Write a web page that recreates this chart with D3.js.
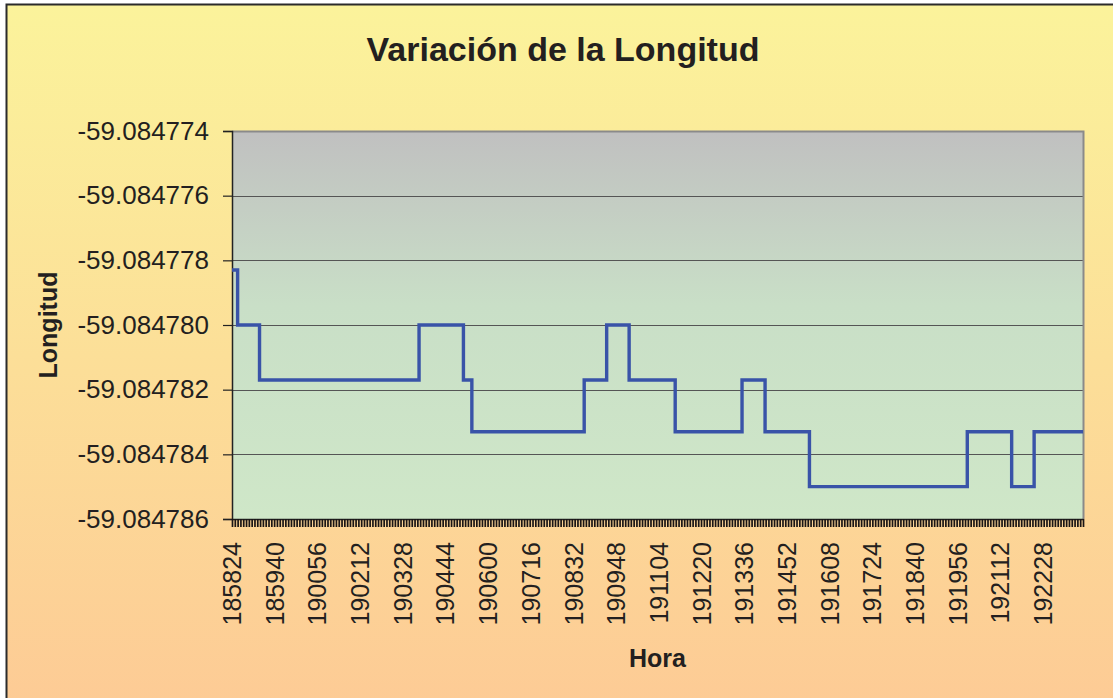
<!DOCTYPE html>
<html>
<head>
<meta charset="utf-8">
<script src="https://cdn.jsdelivr.net/npm/d3@7"></script>
<style>
  body { margin: 0; background: #fff; }
  svg { display: block; font-family: "Liberation Sans", Arial, sans-serif; }
</style>
</head>
<body>
<div id="chart"></div>
<script>
// data: one sample per second, value changes only at these indexes
var sampleCount = 1516;
var changeIndex = [0, 10, 49, 333, 412, 427, 627, 667, 707, 789, 908, 949, 1028, 1309, 1388, 1428];
var changeValue = [-59.0847783, -59.0847800, -59.0847817, -59.0847800, -59.0847817, -59.0847833,
                   -59.0847817, -59.0847800, -59.0847817, -59.0847833, -59.0847817, -59.0847833,
                   -59.0847850, -59.0847833, -59.0847850, -59.0847833];
var hourLabels = ["185824", "185940", "190056", "190212", "190328", "190444", "190600", "190716",
                  "190832", "190948", "191104", "191220", "191336", "191452", "191608", "191724",
                  "191840", "191956", "192112", "192228"];
var labelEvery = 76;
var tickEvery = 5;
var yTicks = [-59.084786, -59.084784, -59.084782, -59.084780, -59.084778, -59.084776, -59.084774];

var W = 1113, H = 698;
var plot = {left: 232, top: 131, right: 1083, bottom: 519};

var svg = d3.select("#chart").append("svg")
  .attr("width", W)
  .attr("height", H);

var defs = svg.append("defs");
var bg = defs.append("linearGradient").attr("id", "bg")
  .attr("x1", 0).attr("y1", 0).attr("x2", 0).attr("y2", 1);
bg.append("stop").attr("offset", "0%").attr("stop-color", "#fbf39b");
bg.append("stop").attr("offset", "100%").attr("stop-color", "#fdca95");

var pg = defs.append("linearGradient").attr("id", "pg")
  .attr("x1", 0).attr("y1", 0).attr("x2", 0).attr("y2", 1);
pg.append("stop").attr("offset", "0%").attr("stop-color", "#c0c0c0");
pg.append("stop").attr("offset", "45%").attr("stop-color", "#c9dfc7");
pg.append("stop").attr("offset", "100%").attr("stop-color", "#cfe7c8");

// chart area background + border
svg.append("rect")
  .attr("x", 0).attr("y", 0).attr("width", W).attr("height", H)
  .attr("fill", "#fff");
svg.append("rect")
  .attr("x", 6.5).attr("y", 4.5).attr("width", W + 20).attr("height", H + 20)
  .attr("fill", "url(#bg)")
  .attr("stroke", "#2b2b2b")
  .attr("stroke-width", 2);

var x = d3.scaleLinear()
  .domain([0, sampleCount - 1])
  .range([plot.left, plot.right]);

var y = d3.scaleLinear()
  .domain([yTicks[0], yTicks[yTicks.length - 1]])
  .range([plot.bottom, plot.top]);

// plot area
svg.append("rect")
  .attr("x", plot.left).attr("y", plot.top)
  .attr("width", plot.right - plot.left).attr("height", plot.bottom - plot.top)
  .attr("fill", "url(#pg)");

// gridlines
svg.append("g")
  .selectAll("line")
  .data(yTicks.slice(1))
  .enter().append("line")
  .attr("x1", plot.left).attr("x2", plot.right)
  .attr("y1", function(d) { return Math.round(y(d)) + 0.5; })
  .attr("y2", function(d) { return Math.round(y(d)) + 0.5; })
  .attr("stroke", "#555")
  .attr("stroke-width", 1.2);

// plot border top/right
svg.append("path")
  .attr("d", "M" + plot.left + "," + (plot.top + 0.5) + "H" + (plot.right + 0.5) + "V" + plot.bottom)
  .attr("fill", "none")
  .attr("stroke", "#8a8a8a")
  .attr("stroke-width", 2);

// y axis
var fmt = d3.format(".6f");
var yAxis = d3.axisLeft(y)
  .tickValues(yTicks)
  .tickFormat(function(d) { return fmt(d).replace("\u2212", "-"); })
  .tickSize(9)
  .tickPadding(14);

var gy = svg.append("g")
  .attr("transform", "translate(" + plot.left + ",0)")
  .call(yAxis);
gy.select(".domain").attr("stroke", "#222").attr("stroke-width", 1.5);
gy.selectAll(".tick line").attr("stroke", "#222").attr("stroke-width", 1.2);
gy.selectAll("text")
  .attr("font-size", 26)
  .attr("fill", "#231f20")
  .attr("font-family", "Liberation Sans, Arial, sans-serif");

// x axis: dense minor ticks, labels every 76 samples
var xAxis = d3.axisBottom(x)
  .tickValues(d3.range(0, sampleCount, tickEvery))
  .tickFormat("")
  .tickSize(8)
  .tickSizeOuter(0);
var gx = svg.append("g")
  .attr("transform", "translate(0," + plot.bottom + ")")
  .call(xAxis);
gx.select(".domain").attr("stroke", "#222").attr("stroke-width", 1.5);
gx.selectAll(".tick line").attr("stroke", "#1a1616").attr("stroke-width", 1.7);

svg.append("g")
  .selectAll("text")
  .data(hourLabels)
  .enter().append("text")
  .attr("transform", function(d, i) {
    return "translate(" + (x(i * labelEvery) + 9) + "," + (plot.bottom + 23) + ") rotate(-90)";
  })
  .attr("text-anchor", "end")
  .attr("font-size", 25)
  .attr("fill", "#231f20")
  .text(function(d) { return d; });

// series
var points = changeIndex.map(function(d, i) { return [d, changeValue[i]]; });
points.push([sampleCount - 1, changeValue[changeValue.length - 1]]);

var line = d3.line()
  .x(function(d) { return x(d[0]); })
  .y(function(d) { return y(d[1]); })
  .curve(d3.curveStepAfter);

svg.append("path")
  .datum(points)
  .attr("d", line)
  .attr("fill", "none")
  .attr("stroke", "#3953a8")
  .attr("stroke-width", 3.4)
  .attr("stroke-linejoin", "miter");

// titles
svg.append("text")
  .attr("x", 563).attr("y", 61)
  .attr("text-anchor", "middle")
  .attr("font-size", 34)
  .attr("font-weight", "bold")
  .attr("fill", "#231f20")
  .text("Variación de la Longitud");

svg.append("text")
  .attr("transform", "translate(57," + ((plot.top + plot.bottom) / 2) + ") rotate(-90)")
  .attr("text-anchor", "middle")
  .attr("font-size", 25)
  .attr("font-weight", "bold")
  .attr("fill", "#231f20")
  .text("Longitud");

svg.append("text")
  .attr("x", (plot.left + plot.right) / 2).attr("y", 667)
  .attr("text-anchor", "middle")
  .attr("font-size", 25)
  .attr("font-weight", "bold")
  .attr("fill", "#231f20")
  .text("Hora");
</script>
</body>
</html>
